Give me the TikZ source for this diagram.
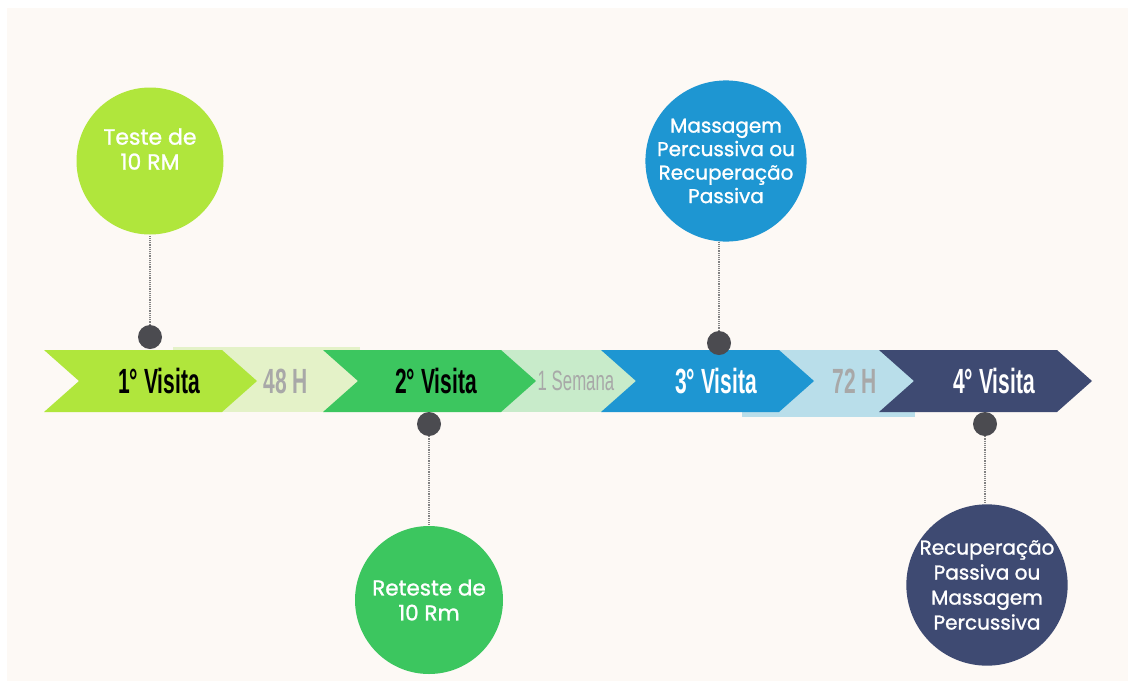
\documentclass[tikz,border=0pt]{standalone}
\usepackage{fontspec}
\setmainfont{Poppins}
\newfontfamily\bubfont[FakeBold=1.2]{Poppins}
\newfontfamily\condfont[FakeStretch=0.6]{Liberation Sans}
\definecolor{tlime}{RGB}{176,230,60}
\definecolor{tlimepale}{RGB}{228,242,200}
\definecolor{tgreen}{RGB}{60,198,95}
\definecolor{tgreenpale}{RGB}{200,235,202}
\definecolor{tblue}{RGB}{30,150,210}
\definecolor{tbluepale}{RGB}{185,222,234}
\definecolor{tnavy}{RGB}{62,74,114}
\definecolor{tcream}{RGB}{253,249,245}
\definecolor{tdot}{RGB}{75,75,80}
\definecolor{tgap}{RGB}{168,168,168}
\definecolor{tline}{RGB}{130,130,130}
\usetikzlibrary{positioning}

\tikzset{
  bubble/.style={circle, inner sep=0pt, align=center, text=white},
  bubtext/.style={align=center, inner sep=0pt, text=white, font=\bubfont\fontsize{22}{25}\selectfont},
  pin/.style={circle, fill=tdot, minimum size=24pt, inner sep=0pt},
  visit/.style={inner sep=0pt, font=\condfont\bfseries\fontsize{35}{35}\selectfont},
  gap/.style={inner sep=0pt, text=tgap, font=\condfont\bfseries\fontsize{35}{35}\selectfont},
  link/.style={draw=tline, densely dotted, line width=1.2pt}
}

\begin{document}
\begin{tikzpicture}[x=1pt, y=-1pt]
  \useasboundingbox (0,0) rectangle (1128,681);
  \fill[white] (0,0) rectangle (1128,681);
  \fill[tcream] (7,8) rectangle (1128,681);

  % bands between the visits
  \fill[tlimepale] (173,347) rectangle (360,412);
  \fill[tgreenpale] (490,350) rectangle (640,412);
  \fill[tbluepale] (742,350) rectangle (915,417);

  % chevrons
  \fill[tlime] (44,350) -- (222,350) -- (257,381) -- (222,412) -- (44,412) -- (79,381) -- cycle;
  \fill[tgreen] (323,350) -- (501,350) -- (536,381) -- (501,412) -- (323,412) -- (358,381) -- cycle;
  \fill[tblue] (601,350) -- (779,350) -- (814,381) -- (779,412) -- (601,412) -- (636,381) -- cycle;
  \fill[tnavy] (879,350) -- (1057,350) -- (1092,381) -- (1057,412) -- (879,412) -- (914,381) -- cycle;

  \node[visit, text=black] (v1) at (159,381) {1° Visita};
  \node[visit, text=black] (v2) at (436,381) {2° Visita};
  \node[visit, text=white] (v3) at (716,381) {3° Visita};
  \node[visit, text=white] (v4) at (994,381) {4° Visita};

  \node[gap] (g1) at (286,381) {48 H};
  \node[gap, font=\condfont\fontsize{28}{28}\selectfont] (g2) at (576,381) {1 Semana};
  \node[gap] (g3) at (855,381) {72 H};

  % circles
  \node[bubble, fill=tlime, minimum size=147pt] (c1) at (150,161) {};
  \node[bubtext] (t1) at ([yshift=12pt]c1.center) {Teste de\\10 RM};
  \node[bubble, fill=tgreen, minimum size=148pt, font=\bubfont\fontsize{21.5}{25}\selectfont] (c2) at (429,600) {Reteste de\\10 Rm};
  \node[bubble, fill=tblue, minimum size=137pt, font=\bubfont\fontsize{20}{23.5}\selectfont] (c3) at (726,161) {Massagem\\Percussiva ou\\Recuperação\\Passiva};
  \node[bubble, fill=tnavy, minimum size=150pt, font=\bubfont\fontsize{20}{25}\selectfont] (c4) at (987,585) {Recuperação\\Passiva ou\\Massagem\\Percussiva};

  \node[pin] (d1) at (150,337) {};
  \node[pin] (d2) at (429,424) {};
  \node[pin] (d3) at (719,343) {};
  \node[pin] (d4) at (985,424) {};

  \draw[link] (d1) -- (d1 |- c1.south);
  \draw[link] (d2) -- (d2 |- c2.north);
  \draw[link] (d3) -- (d3 |- c3.south);
  \draw[link] (d4) -- (d4 |- c4.north);
\end{tikzpicture}
\end{document}
